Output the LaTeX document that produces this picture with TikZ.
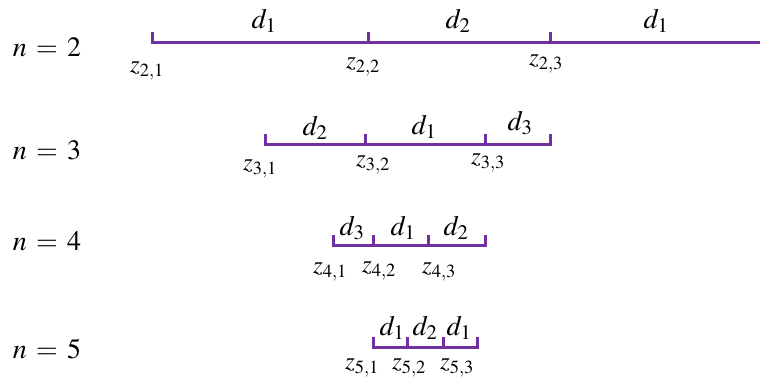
\documentclass[tikz,border=0pt]{standalone}
\usepackage{mathptmx}
\usepackage{tikz}
\definecolor{segpurple}{RGB}{112,48,160}
\tikzset{
  seg/.style={draw=segpurple,line width=3pt,line join=miter},
  dlbl/.style={inner sep=0pt,font=\fontsize{28}{33}\selectfont},
  zlbl/.style={inner sep=0pt,font=\fontsize{25}{30}\selectfont},
  rowlbl/.style={inner sep=0pt,font=\fontsize{28}{33}\selectfont}
}

\begin{document}
\begin{tikzpicture}[x=1pt,y=-1pt]
    \useasboundingbox (0,0) rectangle (760,389);

    % row n=2
    \draw (47,47) node[rowlbl] (n2) {$n\mkern6mu{=}\mkern6mu2$};
    \coordinate (p21) at (152,42); \coordinate (t21) at (152,32);
    \coordinate (p22) at (368,42); \coordinate (t22) at (368,32);
    \coordinate (p23) at (550,42); \coordinate (t23) at (550,32);
    \coordinate (p24) at (761,42);
    \draw[seg] (t21) -- (p21) -- (p24);
    \draw[seg] (t22) -- (p22);
    \draw[seg] (t23) -- (p23);
    \draw (264,21) node[dlbl] (d21) {$d_1$};
    \draw (458,21) node[dlbl] (d22) {$d_2$};
    \draw (656,21) node[dlbl] (d23) {$d_1$};
    \draw (147,71) node[zlbl] (z21) {$z_{2,1}$};
    \draw (363,67) node[zlbl] (z22) {$z_{2,2}$};
    \draw (546,64) node[zlbl] (z23) {$z_{2,3}$};

    % row n=3
    \draw (47,150) node[rowlbl] (n3) {$n\mkern6mu{=}\mkern6mu3$};
    \coordinate (p31) at (265,144); \coordinate (t31) at (265,134);
    \coordinate (p32) at (365,144); \coordinate (t32) at (365,134);
    \coordinate (p33) at (485,144); \coordinate (t33) at (485,134);
    \coordinate (p34) at (550,144); \coordinate (t34) at (550,134);
    \draw[seg] (t31) -- (p31) -- (p34) -- (t34);
    \draw[seg] (t32) -- (p32);
    \draw[seg] (t33) -- (p33);
    \draw (315,128) node[dlbl] (d31) {$d_2$};
    \draw (424,127) node[dlbl] (d32) {$d_1$};
    \draw (520,123) node[dlbl] (d33) {$d_3$};
    \draw (260,169) node[zlbl] (z31) {$z_{3,1}$};
    \draw (373,165) node[zlbl] (z32) {$z_{3,2}$};
    \draw (488,163) node[zlbl] (z33) {$z_{3,3}$};

    % row n=4
    \draw (47,241) node[rowlbl] (n4) {$n\mkern6mu{=}\mkern6mu4$};
    \coordinate (p41) at (333,245); \coordinate (t41) at (333,235);
    \coordinate (p42) at (373,245); \coordinate (t42) at (373,235);
    \coordinate (p43) at (428,245); \coordinate (t43) at (428,235);
    \coordinate (p44) at (485,245); \coordinate (t44) at (485,235);
    \draw[seg] (t41) -- (p41) -- (p44) -- (t44);
    \draw[seg] (t42) -- (p42);
    \draw[seg] (t43) -- (p43);
    \draw (352,228) node[dlbl] (d41) {$d_3$};
    \draw (403,228) node[dlbl] (d42) {$d_1$};
    \draw (456,228) node[dlbl] (d43) {$d_2$};
    \draw (330,272) node[zlbl] (z41) {$z_{4,1}$};
    \draw (379,271) node[zlbl] (z42) {$z_{4,2}$};
    \draw (439,272) node[zlbl] (z43) {$z_{4,3}$};

    % row n=5
    \draw (47,349) node[rowlbl] (n5) {$n\mkern6mu{=}\mkern6mu5$};
    \coordinate (p51) at (373,347); \coordinate (t51) at (373,337);
    \coordinate (p52) at (407,347); \coordinate (t52) at (407,337);
    \coordinate (p53) at (443,347); \coordinate (t53) at (443,337);
    \coordinate (p54) at (477,347); \coordinate (t54) at (477,337);
    \draw[seg] (t51) -- (p51) -- (p54) -- (t54);
    \draw[seg] (t52) -- (p52);
    \draw[seg] (t53) -- (p53);
    \draw (392,328) node[dlbl] (d51) {$d_1$};
    \draw (425,328) node[dlbl] (d52) {$d_2$};
    \draw (459,328) node[dlbl] (d53) {$d_1$};
    \draw (362,368) node[zlbl] (z51) {$z_{5,1}$};
    \draw (409,368) node[zlbl] (z52) {$z_{5,2}$};
    \draw (457,368) node[zlbl] (z53) {$z_{5,3}$};
\end{tikzpicture}
\end{document}
